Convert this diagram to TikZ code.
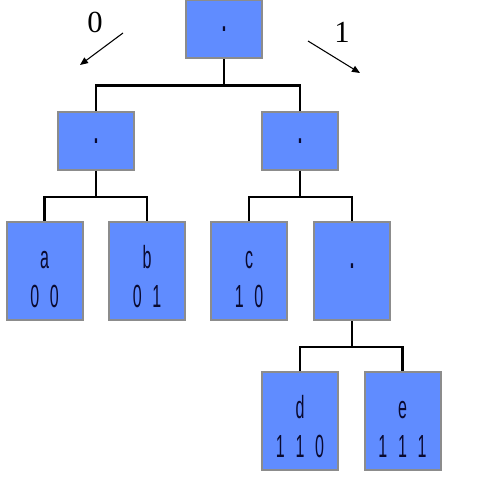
\documentclass[tikz,border=0pt]{standalone}
\usepackage{fontspec}
\newfontfamily\narrowfont[FakeStretch=0.5]{Liberation Sans}
\newfontfamily\labelfont{Liberation Serif}
\usetikzlibrary{arrows.meta, positioning}
\definecolor{NODE_BLUE}{HTML}{608CFF}
\definecolor{NODE_EDGE}{HTML}{8C8C8C}
\definecolor{NODE_TEXT}{HTML}{0A0A30}
\newcommand{\gap}{\hspace{8pt}}
\newcommand{\lift}{\rule{0pt}{26pt}}
\tikzset{
  branch/.style={
    rectangle,
    minimum width=57pt, minimum height=43.5pt,
    text centered, align=center,
    draw=NODE_EDGE, line width=1.5pt, fill=NODE_BLUE, text=NODE_TEXT,
    font=\narrowfont\fontsize{24}{29.5}\selectfont},
  leaf/.style={branch, minimum height=73.5pt},
  link/.style={line width=2.2pt, color=black},
  arr/.style={-{Triangle[length=6pt,width=5pt]}, line width=0.8pt},
  bitlabel/.style={font=\labelfont\fontsize{23}{23}\selectfont},
}

\begin{document}
\begin{tikzpicture}[x=0.75pt, y=-0.75pt]

  \useasboundingbox (0,0) rectangle (494,495);

  % tree nodes
  \node[branch] (root) at (224,29.5) {\textbf{.}};
  \node[branch] (l) at (96,141) {\textbf{.}};
  \node[branch] (r) at (300,141) {\textbf{.}};

  \node[leaf] (a) at (44.5,271) {\lift a\\0\gap0};
  \node[leaf] (b) at (147,271) {\lift b\\0\gap1};
  \node[leaf] (c) at (249,271) {\lift c\\1\gap0};
  \node[leaf] (rr) at (352,271) {\lift\textbf{.}\\\phantom{0}};

  \node[leaf] (d) at (300,420.5) {\lift d\\1\gap1\gap0};
  \node[leaf] (e) at (402.5,420.5) {\lift e\\1\gap1\gap1};

  % branch labels
  \node[bitlabel] (zero) at (95,22) {0};
  \node[bitlabel] (one) at (342,32) {1};
  \coordinate (zs) at (123,33);
  \coordinate (ze) at (80,65);
  \coordinate (os) at (308,41);
  \coordinate (oe) at (360,73);

  \draw[arr] (zs) -- (ze);
  \draw[arr] (os) -- (oe);

  % edges
  \draw[link] (root.south) -- ++(0,26) -| (l.north);
  \draw[link] (root.south) -- ++(0,26) -| (r.north);
  \draw[link] (l.south) -- ++(0,26) -| (a.north);
  \draw[link] (l.south) -- ++(0,26) -| (b.north);
  \draw[link] (r.south) -- ++(0,26) -| (c.north);
  \draw[link] (r.south) -- ++(0,26) -| (rr.north);
  \draw[link] (rr.south) -- ++(0,26) -| (d.north);
  \draw[link] (rr.south) -- ++(0,26) -| (e.north);

\end{tikzpicture}
\end{document}
